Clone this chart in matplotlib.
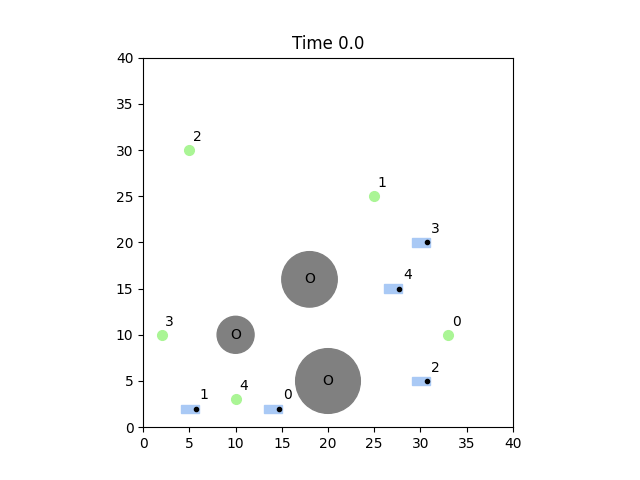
import matplotlib
matplotlib.use("Agg")
import matplotlib.pyplot as plt
from matplotlib.patches import Circle, Rectangle

goal_x = [33, 25, 5, 2, 10]
goal_y = [10, 25, 30, 10, 3]
robot_x = [14.7, 5.7, 30.7, 30.7, 27.7]
robot_y = [2, 2, 5, 20, 15]
obs_x = [18, 10, 20]
obs_y = [16, 10, 5]
obs_r = [3.0, 2.0, 3.5]

fig, ax = plt.subplots(figsize=(6.4, 4.8), dpi=100)
ax.set_xlim(0, 40)
ax.set_ylim(0, 40)
ax.set_aspect("equal")
ax.set_title("Time 0.0")

for x, y, r in zip(obs_x, obs_y, obs_r):
    ax.add_patch(Circle((x, y), r, color="gray"))
    ax.text(x, y, "O", ha="center", va="center")

for i, (x, y) in enumerate(zip(goal_x, goal_y)):
    ax.plot(x, y, "o", color="#aaf595", markersize=7)
    ax.text(x + 0.4, y + 1.0, str(i))

for i, (x, y) in enumerate(zip(robot_x, robot_y)):
    ax.add_patch(Rectangle((x - 1.6, y - 0.45), 1.9, 0.9, color="#a9c9f5"))
    ax.plot(x, y, "o", color="black", markersize=3)
    ax.text(x + 0.4, y + 1.0, str(i))

fig.savefig("out.png")
